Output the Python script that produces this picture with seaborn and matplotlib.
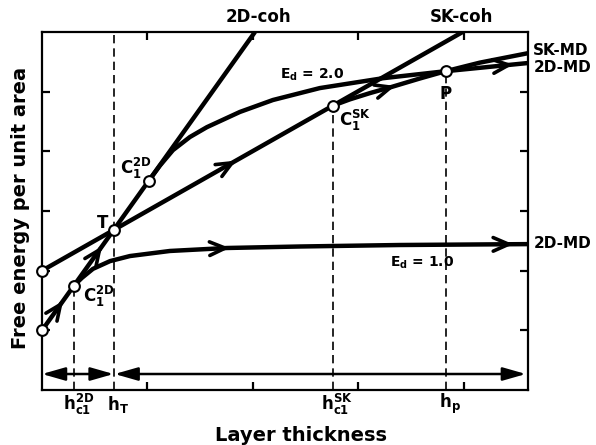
import numpy as np
import pandas as pd
import matplotlib
matplotlib.use("Agg")
import matplotlib.pyplot as plt
import seaborn as sns

# coherent lines (straight)
coh2d_x = [0.0, 2.02]
coh2d_y = [1.0, 6.0]
cohsk_x = [0.0, 3.99]
cohsk_y = [2.0, 6.0]

# misfit-dislocated curves
ed1_x = [0.303, 0.379, 0.483, 0.645, 0.834, 1.213, 1.754, 2.445, 3.393, 4.61]
ed1_y = [1.75, 1.88, 2.03, 2.16, 2.245, 2.33, 2.38, 2.405, 2.43, 2.445]
ed2_x = [1.014, 1.118, 1.242, 1.403, 1.564, 1.877, 2.190, 2.635, 3.232, 3.829, 4.61]
ed2_y = [3.51, 3.76, 4.02, 4.24, 4.405, 4.66, 4.86, 5.06, 5.225, 5.343, 5.48]
skmd_x = [2.758, 2.919, 3.109, 3.318, 3.583, 3.829, 4.152, 4.61]
skmd_y = [4.765, 4.87, 4.975, 5.08, 5.22, 5.343, 5.486, 5.645]

# open circles
pt_x = [0.0, 0.0, 0.303, 0.679, 1.014, 2.758, 3.829]
pt_y = [1.0, 2.0, 1.75, 2.681, 3.51, 4.765, 5.343]

# critical thicknesses (dashed verticals)
h_x = [0.303, 0.679, 2.758, 3.829]
h_top = [1.75, 6.0, 4.765, 5.343]
h_labels = [r"$\mathbf{h_{c1}^{2D}}$", r"$\mathbf{h_T}$",
            r"$\mathbf{h_{c1}^{SK}}$", r"$\mathbf{h_p}$"]

x_ticks = [1, 2, 3, 4]
y_ticks = [1, 2, 3, 4, 5]

sns.set_theme(style="ticks", rc={"axes.linewidth": 1.6, "text.color": "black",
                                 "axes.labelcolor": "black", "axes.edgecolor": "black",
                                 "xtick.color": "black", "ytick.color": "black"})
plt.rcParams["font.family"] = ["DejaVu Sans"]
plt.rcParams["mathtext.fontset"] = "dejavusans"

fig = plt.figure(figsize=(5.96, 4.45), dpi=100)
ax = fig.add_axes([0.0705, 0.1236, 0.8154, 0.8045])

LW = 3.2
for xs, ys in [(coh2d_x, coh2d_y), (cohsk_x, cohsk_y), (ed1_x, ed1_y),
               (ed2_x, ed2_y), (skmd_x, skmd_y)]:
    sns.lineplot(x=xs, y=ys, color="black", lw=LW, sort=False,
                 estimator=None, ax=ax, solid_capstyle="butt")

# dashed verticals
for hx, ht in zip(h_x, h_top):
    ax.plot([hx, hx], [0, ht], color="black", lw=1.2, ls=(0, (5, 3)), zorder=1)

# direction arrows along curves
def curve_arrow(xs, ys, xa, dx=0.05):
    x0, x1 = xa - dx, xa
    y0, y1 = np.interp(x0, xs, ys), np.interp(x1, xs, ys)
    ax.annotate("", xy=(x1, y1), xytext=(x0, y0),
                arrowprops=dict(arrowstyle="->,head_length=0.8,head_width=0.35",
                                lw=2.6, color="black", mutation_scale=14,
                                shrinkA=0, shrinkB=0))

curve_arrow(coh2d_x, coh2d_y, 0.20, 0.02)
curve_arrow(coh2d_x, coh2d_y, 0.57, 0.02)
curve_arrow(cohsk_x, cohsk_y, 1.84)
curve_arrow(ed1_x, ed1_y, 1.78)
curve_arrow(ed1_x, ed1_y, 4.47)
curve_arrow(skmd_x, skmd_y, 3.35)
curve_arrow(ed2_x, ed2_y, 4.47)

# circles
sns.scatterplot(x=pt_x, y=pt_y, s=60, facecolor="white", edgecolor="black",
                linewidth=1.5, zorder=5, ax=ax, clip_on=False)

# bottom double arrows
arr_y = 0.268
astyle = "<|-|>,head_length=0.7,head_width=0.2"
ax.annotate("", xy=(0.0, arr_y), xytext=(h_x[1], arr_y),
            arrowprops=dict(arrowstyle=astyle, lw=1.8, color="black",
                            mutation_scale=20, shrinkA=0, shrinkB=0))
ax.annotate("", xy=(h_x[1] + 0.01, arr_y), xytext=(4.59, arr_y),
            arrowprops=dict(arrowstyle=astyle, lw=1.8, color="black",
                            mutation_scale=20, shrinkA=0, shrinkB=0))

ax.set_xlim(0, 4.61)
ax.set_ylim(0, 6)
ax.set_xticks(x_ticks)
ax.set_yticks(y_ticks)
ax.tick_params(direction="in", length=6, width=1.6, top=True, right=True,
               labelbottom=False, labelleft=False)
for s in ax.spines.values():
    s.set_visible(True)
    s.set_linewidth(1.6)
    s.set_color("black")

fkw = dict(fontweight="bold", color="black", clip_on=False)
# line labels
ax.text(2.05, 6.25, "2D-coh", ha="center", va="center", fontsize=12, **fkw)
ax.text(3.98, 6.25, "SK-coh", ha="center", va="center", fontsize=12, **fkw)
ax.text(4.66, 5.69, "SK-MD", ha="left", va="center", fontsize=11, **fkw)
ax.text(4.66, 5.40, "2D-MD", ha="left", va="center", fontsize=11, **fkw)
ax.text(4.66, 2.45, "2D-MD", ha="left", va="center", fontsize=11, **fkw)
ax.text(2.56, 5.29, r"$\mathbf{E_d}$ = 2.0", ha="center", va="center", fontsize=10, **fkw)
ax.text(3.61, 2.14, r"$\mathbf{E_d}$ = 1.0", ha="center", va="center", fontsize=10, **fkw)

# point labels
ax.text(0.57, 2.80, "T", ha="center", va="center", fontsize=12, **fkw)
ax.text(0.39, 1.56, r"$\mathbf{C_1^{2D}}$", ha="left", va="center", fontsize=12, **fkw)
ax.text(0.74, 3.72, r"$\mathbf{C_1^{2D}}$", ha="left", va="center", fontsize=12, **fkw)
ax.text(2.82, 4.51, r"$\mathbf{C_1^{SK}}$", ha="left", va="center", fontsize=12, **fkw)
ax.text(3.83, 4.96, "P", ha="center", va="center", fontsize=12, **fkw)

# thickness labels
for hx, lab in zip(h_x, h_labels):
    ax.text(hx + 0.04, -0.24, lab, ha="center", va="center", fontsize=12, **fkw)

ax.set_xlabel("Layer thickness", fontsize=14, fontweight="bold", color="black")
ax.set_ylabel("Free energy per unit area", fontsize=14, fontweight="bold", color="black")
ax.xaxis.set_label_coords(0.533, -0.10)
ax.yaxis.set_label_coords(-0.025, 0.508)

fig.savefig("out.png", dpi=100)
